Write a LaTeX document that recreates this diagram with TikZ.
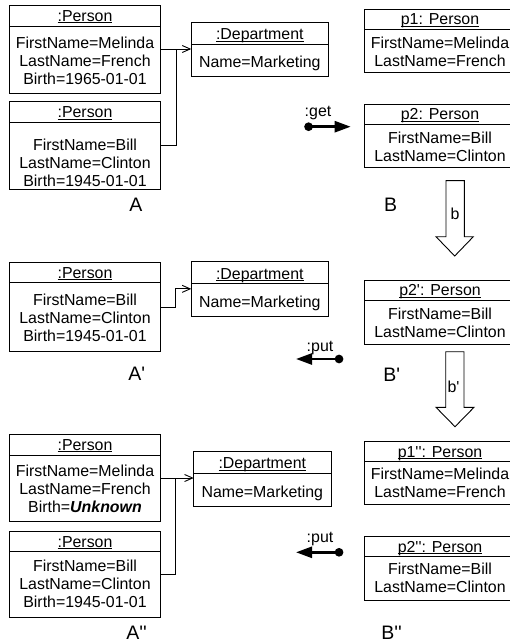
\documentclass[tikz,border=0pt]{standalone}
\usepackage{fontspec}
\setmainfont{Liberation Sans}[Ligatures=TeXOff]
\usetikzlibrary{arrows.meta,fit}

% underlined object name, with the rule close to the baseline
\newcommand\hdrline[1]{\setbox0\hbox{#1}\rlap{\rule[-1.9pt]{\wd0}{0.9pt}}\box0}

\begin{document}
\begin{tikzpicture}[x=1pt,y=-1pt,
  box/.style={draw, line width=0.9pt, inner sep=0pt, outer sep=0pt},
  body/.style={font=\fontsize{15.9}{18}\selectfont, align=center, inner sep=0pt},
  hdr/.style={font=\fontsize{15.9}{18}\selectfont, anchor=base, inner sep=0pt},
  tag/.style={font=\fontsize{19.5}{22}\selectfont, inner sep=0pt},
  small/.style={font=\fontsize{15.9}{18}\selectfont, inner sep=0pt},
  link/.style={line width=0.9pt},
  assoc/.style={line width=0.9pt, -{Straight Barb[length=8pt,width=7pt]}},
  iface/.style={line width=2.6pt, {Circle[length=8.5pt]}-{Triangle[length=16pt,width=11pt]}},
  bigarrow/.style={draw, line width=0.9pt, fill=white, line join=miter}
]
\path[use as bounding box] (0,0) rectangle (510,644);
\clip (0,0) rectangle (510,644);

% ---------------- state A ----------------
\node[box, fit={(9.3,5) (160.7,93)}] (pa1) {};
\draw[link] (pa1.west |- 0,26) -- (pa1.east |- 0,26);
\node[hdr] (pa1h) at (85,21.2) {\hdrline{:Person}};
\node[body] (pa1b) at (85,61) {FirstName=Melinda\\LastName=French\\Birth=1965-01-01};

\node[box, fit={(9.3,101.7) (160.7,189)}] (pa2) {};
\draw[link] (pa2.west |- 0,122.7) -- (pa2.east |- 0,122.7);
\node[hdr] (pa2h) at (85,118) {\hdrline{:Person}};
\node[body] (pa2b) at (85,163.3) {FirstName=Bill\\LastName=Clinton\\Birth=1945-01-01};

\node[box, fit={(191.3,22) (328.3,76.7)}] (da) {};
\draw[link] (da.west |- 0,44.3) -- (da.east |- 0,44.3);
\node[hdr] (dah) at (259.8,39.6) {\hdrline{:Department}};
\node[hdr] (dab) at (259.8,67.2) {Name=Marketing};

\coordinate (ea) at (176,49);
\draw[assoc] (pa1.east) -- (da.west |- pa1.east);
\draw[link] (pa2.east) -| (ea);

\node[tag] (la) at (136,205) {A};

% ---------------- state A' ----------------
\node[box, fit={(9.3,262.3) (160.7,351.7)}] (pb) {};
\draw[link] (pb.west |- 0,282.7) -- (pb.east |- 0,282.7);
\node[hdr] (pbh) at (85,278) {\hdrline{:Person}};
\node[body] (pbb) at (85,317.7) {FirstName=Bill\\LastName=Clinton\\Birth=1945-01-01};

\node[box, fit={(191.3,261.5) (328.3,316.2)}] (db) {};
\draw[link] (db.west |- 0,283.8) -- (db.east |- 0,283.8);
\node[hdr] (dbh) at (259.8,279.1) {\hdrline{:Department}};
\node[hdr] (dbb) at (259.8,307.2) {Name=Marketing};

\coordinate (eb) at (175.7,298);
\draw[assoc] (pb.east) -| (eb) |- (db.west);

\node[tag] (lb) at (136.7,374) {A'};

% ---------------- state A'' ----------------
\node[box, fit={(9.3,434.3) (160.7,521.7)}] (pc1) {};
\draw[link] (pc1.west |- 0,455) -- (pc1.east |- 0,455);
\node[hdr] (pc1h) at (85,450.3) {\hdrline{:Person}};
\node[body] (pc1b) at (85,489.3) {FirstName=Melinda\\LastName=French\\Birth=\textbf{\textit{Unknown}}};

\node[box, fit={(9.3,531) (160.7,617.7)}] (pc2) {};
\draw[link] (pc2.west |- 0,551.7) -- (pc2.east |- 0,551.7);
\node[hdr] (pc2h) at (85,547) {\hdrline{:Person}};
\node[body] (pc2b) at (85,584.3) {FirstName=Bill\\LastName=Clinton\\Birth=1945-01-01};

\node[box, fit={(193.7,451) (331,506)}] (dc) {};
\draw[link] (dc.west |- 0,473.5) -- (dc.east |- 0,473.5);
\node[hdr] (dch) at (262.3,468.8) {\hdrline{:Department}};
\node[hdr] (dcb) at (262.3,497.2) {Name=Marketing};

\coordinate (ec) at (175.7,478);
\draw[assoc] (pc1.east) -- (dc.west |- pc1.east);
\draw[link] (pc2.east) -| (ec);

\node[tag] (lc) at (136.7,633) {A''};

% ---------------- view B ----------------
\node[box, fit={(364,9) (516,72.3)}] (q1) {};
\draw[link] (q1.west |- 0,29.3) -- (q1.east |- 0,29.3);
\node[hdr] (q1h) at (440,24.8) {\hdrline{p1: Person}};
\node[body] (q1b) at (440,52.2) {FirstName=Melinda\\LastName=French};

\node[box, fit={(364,104) (516,167.7)}] (q2) {};
\draw[link] (q2.west |- 0,124.3) -- (q2.east |- 0,124.3);
\node[hdr] (q2h) at (440,119.8) {\hdrline{p2: Person}};
\node[body] (q2b) at (440,147.2) {FirstName=Bill\\LastName=Clinton};

\coordinate (g1) at (304.3,126.7);
\coordinate (g2) at (350.7,126.7);
\draw[iface] (g1) -- (g2);
\node[small] (gl) at (318,113) {:get};

\node[tag] (lq) at (390.7,205) {B};

% transformation b
\draw[bigarrow] (446,180.7) -- (464.3,180.7) -- (464.3,236.7) -- (473.3,236.7)
  -- (454.7,256) -- (436,236.7) -- (446,236.7) -- cycle;
\node[small] (tb) at (455,214) {b};

% ---------------- view B' ----------------
\node[box, fit={(364,280.3) (516,344)}] (q3) {};
\draw[link] (q3.west |- 0,300.3) -- (q3.east |- 0,300.3);
\node[hdr] (q3h) at (440,295.8) {\hdrline{p2': Person}};
\node[body] (q3b) at (440,323) {FirstName=Bill\\LastName=Clinton};

\coordinate (u1) at (343.3,359);
\coordinate (u2) at (296,359);
\draw[iface] (u1) -- (u2);
\node[small] (ul) at (320,348) {:put};

\node[tag] (lr) at (391.7,375) {B'};

% transformation b'
\draw[bigarrow] (445.7,351.7) -- (464,351.7) -- (464,407.3) -- (474,407.3)
  -- (455,426.7) -- (436,407.3) -- (445.7,407.3) -- cycle;
\node[small] (tb2) at (453.5,386.7) {b'};

% ---------------- view B'' ----------------
\node[box, fit={(364,441) (516,504.3)}] (q4) {};
\draw[link] (q4.west |- 0,461.7) -- (q4.east |- 0,461.7);
\node[hdr] (q4h) at (440,457.2) {\hdrline{p1'': Person}};
\node[body] (q4b) at (440,482.5) {FirstName=Melinda\\LastName=French};

\node[box, fit={(364,536) (516,600)}] (q5) {};
\draw[link] (q5.west |- 0,556.7) -- (q5.east |- 0,556.7);
\node[hdr] (q5h) at (440,552.2) {\hdrline{p2'': Person}};
\node[body] (q5b) at (440,578.3) {FirstName=Bill\\LastName=Clinton};

\coordinate (v1) at (343.3,552.3);
\coordinate (v2) at (296,552.3);
\draw[iface] (v1) -- (v2);
\node[small] (vl) at (320,539.3) {:put};

\node[tag] (ls) at (391.7,633) {B''};
\end{tikzpicture}
\end{document}
